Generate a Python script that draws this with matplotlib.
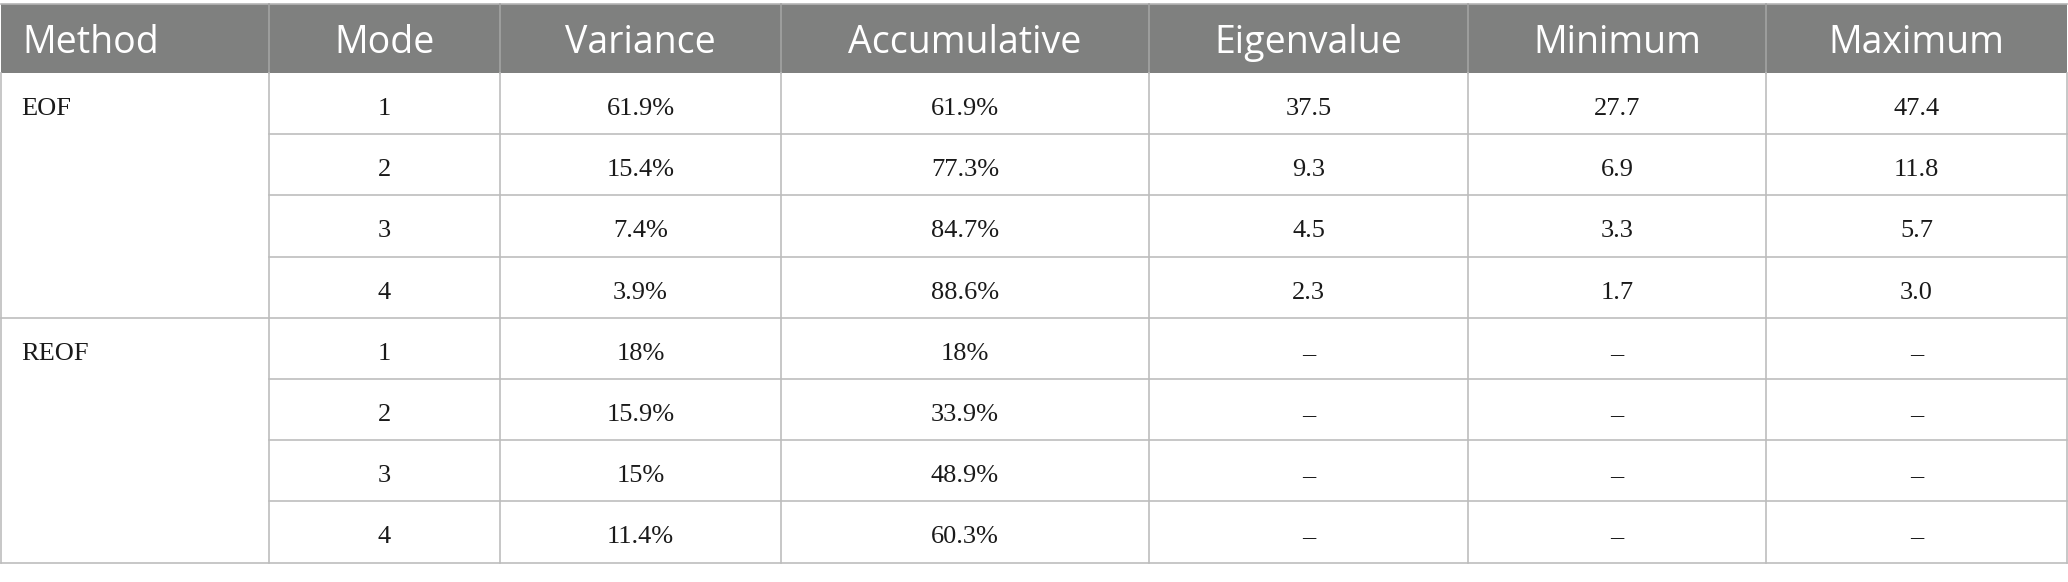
import matplotlib.pyplot as plt
from matplotlib.patches import Rectangle

# table content
headers = ['Method', 'Mode', 'Variance', 'Accumulative', 'Eigenvalue', 'Minimum', 'Maximum']
methods = ['EOF', 'REOF']
modes = ['1', '2', '3', '4', '1', '2', '3', '4']
variance = ['61.9%', '15.4%', '7.4%', '3.9%', '18%', '15.9%', '15%', '11.4%']
accumulative = ['61.9%', '77.3%', '84.7%', '88.6%', '18%', '33.9%', '48.9%', '60.3%']
eigenvalue = ['37.5', '9.3', '4.5', '2.3', '–', '–', '–', '–']
minimum = ['27.7', '6.9', '3.3', '1.7', '–', '–', '–', '–']
maximum = ['47.4', '11.8', '5.7', '3.0', '–', '–', '–', '–']

W, H = 2068, 582
col_edges = [1, 269, 500, 781, 1149, 1468, 1766, 2067]
head_top, head_bot = 4, 73
row_h = 61.2
n_rows = len(modes)
rows_per_method = 4
base_off = 42  # baseline offset from row top

head_bg = '#7f807f'
line_col = '#bdbdbd'

fig = plt.figure(figsize=(W / 100, H / 100), dpi=100)
ax = fig.add_axes([0, 0, 1, 1])
ax.set_xlim(0, W)
ax.set_ylim(H, 0)
ax.axis('off')

# header band
ax.add_patch(Rectangle((col_edges[0], head_top), col_edges[-1] - col_edges[0],
                       head_bot - head_top, facecolor=head_bg, edgecolor='none'))
ax.plot([col_edges[0], col_edges[-1]], [head_top, head_top], color='#b4b4b4', lw=1.2)
for x in col_edges[1:-1]:
    ax.plot([x, x], [head_top, head_bot], color='#a3a3a3', lw=1.2)

for i, h in enumerate(headers):
    if i == 0:
        ax.text(col_edges[0] + 21, head_bot - 20, h, ha='left', va='baseline',
                color='white', fontsize=27, family='Open Sans')
    else:
        cx = (col_edges[i] + col_edges[i + 1]) / 2
        ax.text(cx, head_bot - 20, h, ha='center', va='baseline',
                color='white', fontsize=27, family='Open Sans')

# body grid
body_bot = head_bot + n_rows * row_h
for x in col_edges:
    ax.plot([x, x], [head_bot, body_bot], color=line_col, lw=1.2)
for r in range(1, n_rows + 1):
    y = head_bot + r * row_h
    x0 = col_edges[0] if r % rows_per_method == 0 else col_edges[1]
    ax.plot([x0, col_edges[-1]], [y, y], color=line_col, lw=1.2)

# body text
for m, name in enumerate(methods):
    y0 = head_bot + m * rows_per_method * row_h
    ax.text(col_edges[0] + 20, y0 + base_off, name, ha='left', va='baseline',
            fontsize=19, family='Liberation Serif', color='#1a1a1a')

columns = [modes, variance, accumulative, eigenvalue, minimum, maximum]
for c, vals in enumerate(columns, start=1):
    cx = (col_edges[c] + col_edges[c + 1]) / 2
    for r, v in enumerate(vals):
        y = head_bot + r * row_h + base_off
        ax.text(cx, y, v, ha='center', va='baseline', fontsize=19,
                family='Liberation Serif', color='#1a1a1a')

fig.savefig('out.png', dpi=100)
